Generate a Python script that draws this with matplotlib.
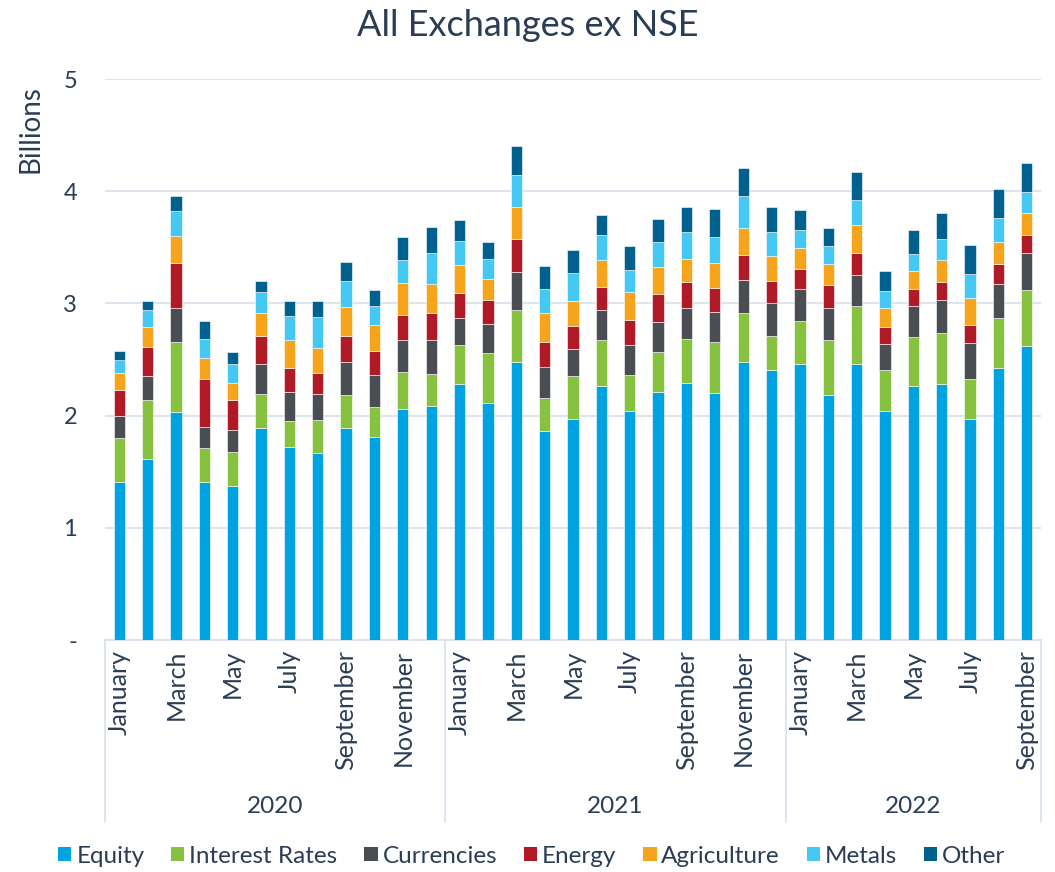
import matplotlib.pyplot as plt
import matplotlib.transforms as mtransforms
from matplotlib.patches import Patch
import numpy as np

plt.rcParams['font.family'] = ['Lato', 'DejaVu Sans']

# Monthly volumes (billions), Jan 2020 .. Sep 2022
months = ["January", "February", "March", "April", "May", "June", "July",
          "August", "September", "October", "November", "December"]
years = ["2020", "2021", "2022"]
months_per_year = [12, 12, 9]

equity = [1.41, 1.61, 2.03, 1.41, 1.37, 1.89, 1.72, 1.67, 1.89, 1.81, 2.06, 2.09,
          2.28, 2.11, 2.48, 1.86, 1.97, 2.26, 2.04, 2.21, 2.29, 2.20, 2.48, 2.41,
          2.46, 2.18, 2.46, 2.04, 2.26, 2.28, 1.97, 2.42, 2.62]
interest_rates = [0.39, 0.53, 0.63, 0.30, 0.31, 0.30, 0.23, 0.29, 0.29, 0.27, 0.33, 0.28,
                  0.35, 0.45, 0.46, 0.30, 0.38, 0.41, 0.32, 0.36, 0.39, 0.46, 0.43, 0.30,
                  0.38, 0.49, 0.52, 0.37, 0.44, 0.46, 0.36, 0.45, 0.50]
currencies = [0.20, 0.21, 0.30, 0.19, 0.19, 0.27, 0.26, 0.23, 0.30, 0.28, 0.28, 0.30,
              0.24, 0.26, 0.34, 0.27, 0.24, 0.27, 0.27, 0.26, 0.28, 0.26, 0.30, 0.29,
              0.29, 0.29, 0.27, 0.23, 0.28, 0.29, 0.32, 0.30, 0.33]
energy = [0.23, 0.26, 0.40, 0.43, 0.27, 0.25, 0.21, 0.19, 0.23, 0.22, 0.23, 0.24,
          0.22, 0.21, 0.29, 0.23, 0.21, 0.21, 0.22, 0.25, 0.23, 0.22, 0.22, 0.20,
          0.18, 0.20, 0.20, 0.15, 0.15, 0.16, 0.16, 0.18, 0.16]
agriculture = [0.15, 0.18, 0.24, 0.18, 0.15, 0.20, 0.25, 0.22, 0.26, 0.23, 0.28, 0.26,
               0.25, 0.19, 0.29, 0.25, 0.22, 0.24, 0.25, 0.24, 0.21, 0.22, 0.24, 0.22,
               0.18, 0.19, 0.25, 0.17, 0.16, 0.20, 0.24, 0.20, 0.20]
metals = [0.12, 0.15, 0.22, 0.17, 0.17, 0.19, 0.22, 0.28, 0.23, 0.17, 0.21, 0.28,
          0.22, 0.18, 0.28, 0.22, 0.25, 0.22, 0.20, 0.23, 0.24, 0.23, 0.29, 0.22,
          0.16, 0.16, 0.22, 0.15, 0.15, 0.18, 0.21, 0.21, 0.18]
other = [0.08, 0.08, 0.14, 0.16, 0.11, 0.10, 0.13, 0.14, 0.17, 0.14, 0.20, 0.23,
         0.18, 0.15, 0.26, 0.20, 0.21, 0.18, 0.21, 0.20, 0.22, 0.25, 0.25, 0.22,
         0.18, 0.16, 0.25, 0.18, 0.21, 0.24, 0.26, 0.26, 0.26]

series = [
    ("Equity", equity, "#00A3E2"),
    ("Interest Rates", interest_rates, "#86C240"),
    ("Currencies", currencies, "#4A4D52"),
    ("Energy", energy, "#B01A26"),
    ("Agriculture", agriculture, "#F7A41D"),
    ("Metals", metals, "#46C8F5"),
    ("Other", other, "#00618E"),
]

text_col = "#2B3D55"
grid_col = "#D7E1EC"

fig = plt.figure(figsize=(10.55, 8.72), dpi=100)
ax = fig.add_axes([105 / 1055, 1 - 640 / 872, 936 / 1055, 561 / 872])

n = len(equity)
x = np.arange(n)
bottom = np.zeros(n)
for name, vals, col in series:
    ax.bar(x, vals, width=0.4, bottom=bottom, color=col, edgecolor="white",
           linewidth=0.4, zorder=3)
    bottom += np.array(vals)

ax.set_xlim(-0.5, n - 0.5)
ax.set_ylim(0, 5)
ax.set_yticks([0, 1, 2, 3, 4, 5])
ax.set_yticklabels(["-", "1", "2", "3", "4", "5"])
ax.yaxis.grid(True, color=grid_col, linewidth=1.2, zorder=0)
ax.tick_params(axis="y", length=0, pad=20, labelsize=17, labelcolor=text_col)

# month labels (every other month)
tick_pos, tick_lab = [], []
i = 0
for cnt in months_per_year:
    for m in range(cnt):
        if m % 2 == 0:
            tick_pos.append(i + m)
            tick_lab.append(months[m])
    i += cnt
ax.set_xticks(tick_pos)
ax.set_xticklabels(tick_lab, rotation=90, va="top", ha="center")
ax.tick_params(axis="x", length=0, pad=7, labelsize=18, labelcolor=text_col)

for s in ["top", "right", "left"]:
    ax.spines[s].set_visible(False)
ax.spines["bottom"].set_color(grid_col)
ax.spines["bottom"].set_linewidth(1.2)

# year groups
trans = mtransforms.blended_transform_factory(ax.transData, ax.transAxes)
start = 0
edges = [-0.5]
for yr, cnt in zip(years, months_per_year):
    ax.text(start + (cnt - 1) / 2, -0.296, yr, transform=trans, ha="center",
            va="center", fontsize=17.5, color=text_col)
    start += cnt
    edges.append(start - 0.5)
for e in edges:
    ax.plot([e, e], [0, -0.324], transform=trans, color=grid_col, lw=1.2,
            clip_on=False)

ax.set_ylabel("Billions", fontsize=20, color=text_col)
ax.yaxis.set_label_coords(-0.066, 0.91)

fig.text(0.5, 1 - 25 / 872, "All Exchanges ex NSE", ha="center", va="center",
         fontsize=26, color=text_col)

handles = [Patch(facecolor=c, edgecolor="none") for _, _, c in series]
labels = [nm for nm, _, _ in series]
fig.legend(handles, labels, loc="center", bbox_to_anchor=(0.504, 1 - 856 / 872),
           ncol=7, frameon=False, fontsize=17.5, handlelength=0.55, handleheight=0.55,
           handletextpad=0.2, columnspacing=1.1, labelcolor=text_col)

fig.savefig("out.png", dpi=100)
